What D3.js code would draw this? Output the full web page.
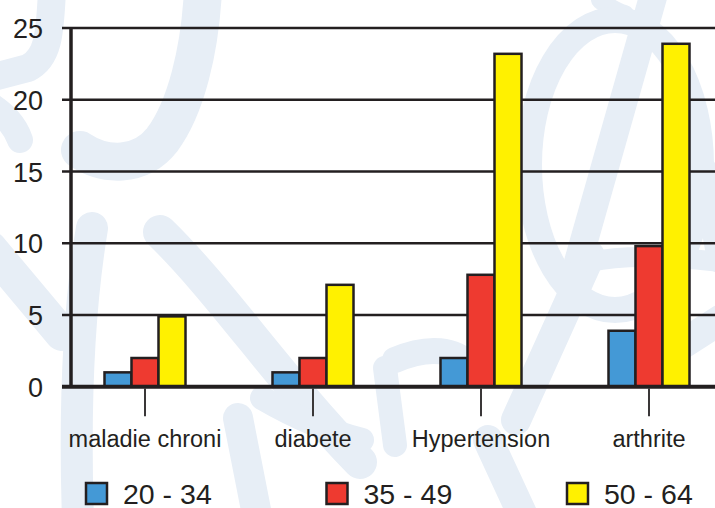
<!DOCTYPE html>
<html>
<head>
<meta charset="utf-8">
<script src="https://cdn.jsdelivr.net/npm/d3@7"></script>
<style>
  html, body { margin: 0; padding: 0; background: #fff; }
  svg { display: block; }
  text { font-family: "Liberation Sans", Arial, Helvetica, sans-serif; fill: #231f20; }
</style>
</head>
<body>
<svg id="chart" width="715" height="508"></svg>
<script>
// Data
const categories = ["maladie chroni", "diabete", "Hypertension", "arthrite"];
const seriesNames = ["20 - 34", "35 - 49", "50 - 64"];
const values2034 = [1, 1, 2, 3.9];
const values3549 = [2, 2, 7.8, 9.8];
const values5064 = [4.9, 7.1, 23.2, 23.9];
const yTicks = [0, 5, 10, 15, 20, 25];
const seriesColors = ["#4499d6", "#ee3a30", "#fff100"];

const seriesValues = [values2034, values3549, values5064];

const svg = d3.select("#chart");
const ink = "#231f20";

// Faint brush-stroke background motif
const wm = svg.append("g")
  .attr("fill", "none")
  .attr("stroke", "#e7eef6")
  .attr("stroke-linecap", "round")
  .attr("stroke-linejoin", "round");
const strokes = [
  ["M203,-10 C200,50 186,108 162,140 C140,168 104,166 80,150", 38],
  ["M52,-10 C50,35 48,58 28,68 L-10,78", 28],
  ["M-10,105 C5,115 15,125 20,140", 26],
  ["M92,228 C80,300 74,400 78,520", 32],
  ["M-10,248 L62,334", 34],
  ["M160,232 C220,290 280,380 360,462", 34],
  ["M238,418 L258,520", 30],
  ["M262,398 C300,420 330,432 362,440", 24],
  ["M655,-10 L578,262", 28],
  ["M600,0 C610,8 616,12 625,14", 18],
  ["M395,360 C430,345 455,350 470,365", 26],
  ["M385,368 L395,445", 24],
  ["M488,440 L525,520", 30],
  ["M590,256 L516,420", 30],
  ["M650,365 L720,320", 30],
  ["M704,170 L720,260", 26],
  ["M590,262 C620,255 660,255 720,262", 20]
];
strokes.forEach(([d, w]) => wm.append("path").attr("d", d).attr("stroke-width", w));
wm.append("ellipse")
  .attr("cx", 615).attr("cy", 165).attr("rx", 86).attr("ry", 145)
  .attr("stroke-width", 26);

// Scales
const x = d3.scaleBand().domain(categories).range([61, 733]).padding(0);
const xInner = d3.scaleBand().domain(seriesNames).range([-40.5, 40.5]).padding(0);
const y = d3.scaleLinear().domain([0, 25]).range([386.7, 28]);
const axisX = 71;

// Horizontal gridlines
svg.append("g").selectAll("line")
  .data(yTicks.filter(d => d > 0))
  .join("line")
  .attr("x1", 62).attr("x2", 715)
  .attr("y1", d => y(d)).attr("y2", d => y(d))
  .attr("stroke", ink).attr("stroke-width", 2.5);

// Bars
const groups = svg.append("g").selectAll("g")
  .data(categories)
  .join("g")
  .attr("transform", d => `translate(${x(d) + x.bandwidth() / 2},0)`);

groups.selectAll("rect")
  .data((c, i) => seriesNames.map((s, k) => ({ s, k, v: seriesValues[k][i] })))
  .join("rect")
  .attr("x", d => xInner(d.s))
  .attr("width", xInner.bandwidth())
  .attr("y", d => y(d.v))
  .attr("height", d => y(0) - y(d.v))
  .attr("fill", d => seriesColors[d.k])
  .attr("stroke", ink)
  .attr("stroke-width", 2.5);

// Y axis labels
const yAxis = d3.axisLeft(y).tickValues(yTicks).tickSize(0).tickPadding(28);
const yg = svg.append("g").attr("transform", `translate(${axisX},0)`).call(yAxis);
yg.select(".domain").remove();
yg.selectAll("text")
  .attr("font-size", 27)
  .attr("font-family", "Liberation Sans, Arial, sans-serif")
  .attr("fill", ink)
  .attr("dy", "0.36em");

// Y axis line
svg.append("line")
  .attr("x1", axisX).attr("x2", axisX)
  .attr("y1", y(25) - 1).attr("y2", y(0))
  .attr("stroke", ink).attr("stroke-width", 3.5);

// X baseline
svg.append("line")
  .attr("x1", 62).attr("x2", 715)
  .attr("y1", y(0)).attr("y2", y(0))
  .attr("stroke", ink).attr("stroke-width", 4);

// Category ticks and labels
const xAxis = d3.axisBottom(x).tickSize(28).tickPadding(14);
const xg = svg.append("g").attr("transform", `translate(0,${y(0) + 1.5})`).call(xAxis);
xg.select(".domain").remove();
xg.selectAll(".tick line").attr("stroke", "#3a3738").attr("stroke-width", 2);
xg.selectAll("text")
  .attr("font-size", 23.5)
  .attr("font-family", "Liberation Sans, Arial, sans-serif")
  .attr("fill", ink);

// Legend
const legendX = d3.scalePoint().domain(seriesNames).range([85, 566]);
const lg = svg.append("g").selectAll("g")
  .data(seriesNames)
  .join("g")
  .attr("transform", d => `translate(${legendX(d)},482)`);
lg.append("rect")
  .attr("x", 1).attr("y", 1)
  .attr("width", 21).attr("height", 21)
  .attr("fill", (d, i) => seriesColors[i])
  .attr("stroke", ink).attr("stroke-width", 2.5);
lg.append("text")
  .attr("x", 38).attr("y", 21.5)
  .attr("font-size", 28.5)
  .text(d => d);
</script>
</body>
</html>
